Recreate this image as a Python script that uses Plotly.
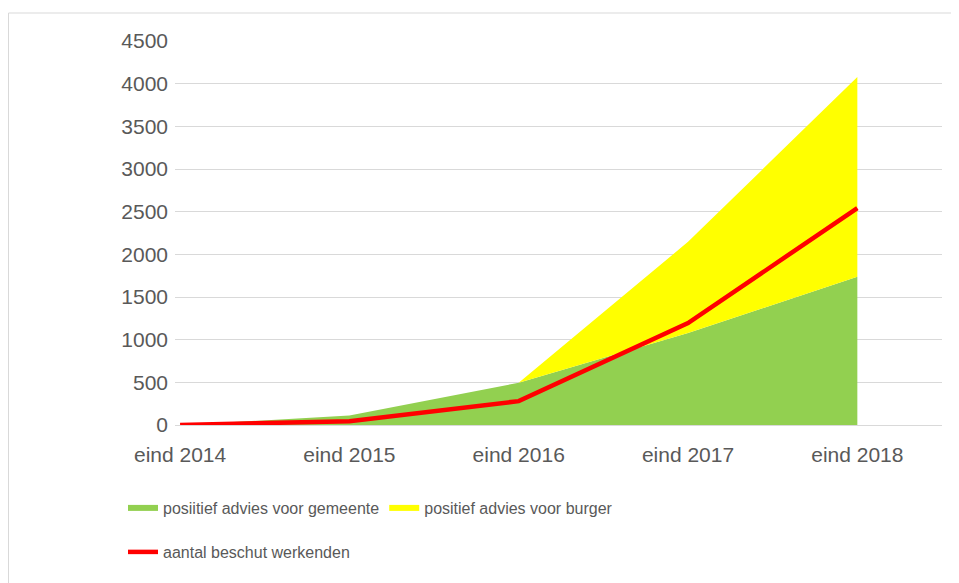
import plotly.graph_objects as go

categories = ["eind 2014", "eind 2015", "eind 2016", "eind 2017", "eind 2018"]
gemeente = [0, 110, 495, 1077, 1738]
burger = [0, 0, 0, 1069, 2340]
beschut = [0, 45, 280, 1194, 2542]
y_ticks = [0, 500, 1000, 1500, 2000, 2500, 3000, 3500, 4000, 4500]

OFF = 8  # page body margin
W, H = 959 - OFF, 583 - OFF
L, R, T, B = 175 - OFF, 17, 41 - OFF, 158
pw, ph = W - L - R, H - T - B

def px_to_paper_x(px):
    return (px - OFF - L) / pw

def px_to_paper_y(py):
    return (H - B - (py - OFF)) / ph

xidx = list(range(len(categories)))
font_family = "Liberation Sans, Arial, sans-serif"
txt = "#595959"

fig = go.Figure()
fig.add_trace(go.Scatter(
    x=xidx, y=gemeente, name="posiitief advies voor gemeente",
    stackgroup="one", mode="none", fillcolor="#92D050",
    line=dict(width=0), legend="legend", hoverinfo="y"))
fig.add_trace(go.Scatter(
    x=xidx, y=burger, name="positief advies voor burger",
    stackgroup="one", mode="none", fillcolor="#FFFF00",
    line=dict(width=0), legend="legend", hoverinfo="y"))
fig.add_trace(go.Scatter(
    x=xidx, y=beschut, name="aantal beschut werkenden",
    mode="lines", line=dict(color="#FF0000", width=4.5),
    legend="legend2"))

fig.update_layout(
    width=W, height=H,
    margin=dict(l=L, r=R, t=T, b=B),
    paper_bgcolor="white", plot_bgcolor="white",
    font=dict(family=font_family, color=txt),
    xaxis=dict(
        range=[-0.03, 4.5], tickmode="array", tickvals=xidx, ticktext=categories,
        showgrid=False, zeroline=False, showline=False,
        tickfont=dict(size=21, color=txt), ticks="", ticklabelstandoff=15),
    yaxis=dict(
        range=[0, 4500], tickmode="array", tickvals=y_ticks,
        showgrid=True, gridcolor="#d9d9d9", gridwidth=1,
        zeroline=True, zerolinecolor="#d9d9d9", zerolinewidth=1,
        showline=False, ticks="", tickfont=dict(size=21, color=txt),
        ticklabelstandoff=6),
    showlegend=True,
    legend=dict(
        orientation="h", x=px_to_paper_x(123), xanchor="left",
        y=px_to_paper_y(508), yanchor="middle", traceorder="normal",
        font=dict(size=16, color=txt), bgcolor="rgba(0,0,0,0)",
        itemwidth=30, tracegroupgap=0),
    legend2=dict(
        orientation="h", x=px_to_paper_x(123), xanchor="left",
        y=px_to_paper_y(552), yanchor="middle",
        font=dict(size=16, color=txt), bgcolor="rgba(0,0,0,0)",
        itemwidth=30),
    shapes=[dict(
        type="rect", xref="paper", yref="paper",
        x0=px_to_paper_x(OFF + 0.5), x1=px_to_paper_x(990),
        y0=px_to_paper_y(620), y1=px_to_paper_y(13),
        line=dict(color="#d9d9d9", width=1), fillcolor="rgba(0,0,0,0)",
        layer="below")],
)

fig.write_html("out.html")
